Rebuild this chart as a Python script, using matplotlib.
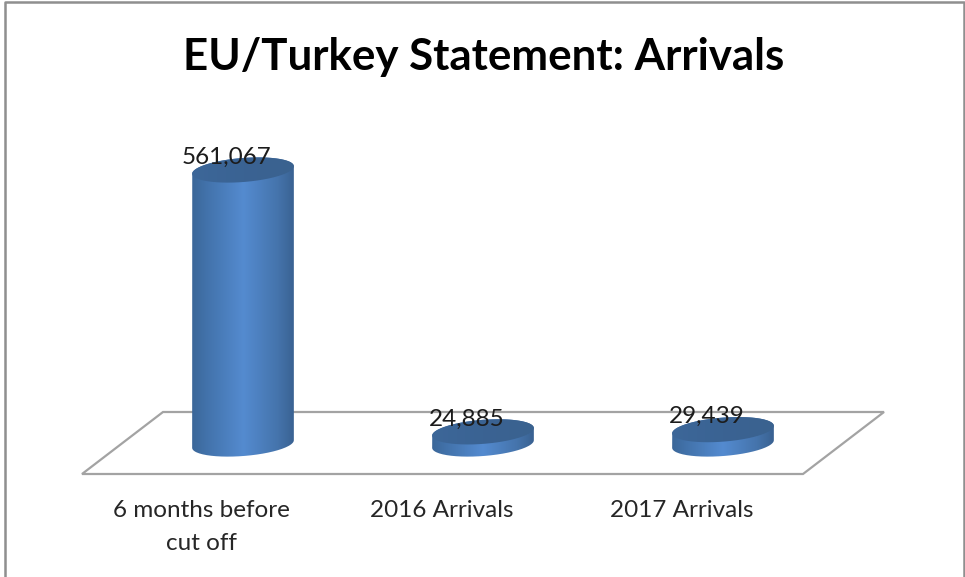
import numpy as np
import matplotlib
matplotlib.use("Agg")
import matplotlib.pyplot as plt
from matplotlib.colors import LinearSegmentedColormap
from matplotlib.patches import PathPatch, Polygon
from matplotlib.path import Path

title = "EU/Turkey Statement: Arrivals"
categories = ["6 months before\ncut off", "2016 Arrivals", "2017 Arrivals"]
arrivals = [561067, 24885, 29439]

W, H = 965, 577
CAT_SPACING = 240      # pixels between categories
FIRST_CAT_PX = 243     # pixel column of the first category
BASE_PX = 444          # pixel row of the zero line
PX_PER_UNIT = 274 / 561067

plt.rcParams["font.family"] = ["Lato", "DejaVu Sans"]

fig = plt.figure(figsize=(W / 100, H / 100), dpi=100, facecolor="white")
ax = fig.add_axes([0, 0, 1, 1])
ax.set_xlim(-FIRST_CAT_PX / CAT_SPACING, (W - FIRST_CAT_PX) / CAT_SPACING)
ax.set_ylim(-(H - BASE_PX) / PX_PER_UNIT, BASE_PX / PX_PER_UNIT)
ax.axis("off")

DX = 1 / CAT_SPACING   # data units per pixel, horizontally
DY = 1 / PX_PER_UNIT   # data units per pixel, vertically


def fig_px(x, y):
    """Pixel position (origin top-left) to data coordinates."""
    return ax.transData.inverted().transform(
        ax.transAxes.transform((x / W, 1 - y / H)))


# Chart frame
frame = fig.add_artist(plt.Line2D(
    [4.5 / W, 4.5 / W, 963.5 / W, 963.5 / W],
    [0, 1 - 1.5 / H, 1 - 1.5 / H, 0],
    color="#8f8f8f", lw=1.8, transform=fig.transFigure))

# Perspective floor behind the cylinders
floor_px = [(82, 474), (803, 474), (884, 412), (163, 412)]
ax.add_patch(Polygon([fig_px(*p) for p in floor_px], closed=True,
                     facecolor="white", edgecolor="#a3a3a3", lw=1.6, zorder=1))

body_cmap = LinearSegmentedColormap.from_list(
    "body", [(0, "#3a6596"), (0.15, "#4272aa"), (0.5, "#548bd0"),
             (0.82, "#4574ac"), (1, "#385f8e")])
cap_cmap = LinearSegmentedColormap.from_list(
    "cap", ["#3d6799", "#3a6393", "#3b628f"])

A, B = 51.0, 12.0              # ellipse semi-axes in pixels
TILT = np.deg2rad(4.5)         # right side of each ellipse sits higher


def ellipse(cx, val, t):
    ex = A * np.cos(t)
    ey = B * np.sin(t)
    x = ex * np.cos(TILT) + ey * np.sin(TILT)
    y = -ex * np.sin(TILT) + ey * np.cos(TILT)   # pixels, downward positive
    return np.column_stack([cx + x * DX, val - y * DY])


def gradient(cmap, x0, x1, y0, y1, clip, z):
    im = ax.imshow(np.linspace(0, 1, 256)[None, :], cmap=cmap, vmin=0, vmax=1,
                   extent=(x0, x1, y0, y1), aspect="auto", zorder=z,
                   interpolation="bilinear")
    im.set_clip_path(clip)


for i, val in enumerate(arrivals):
    front = np.linspace(0, np.pi, 80)
    back = np.linspace(np.pi, 2 * np.pi, 80)
    outline = np.vstack([ellipse(i, 0, front), ellipse(i, val, back)])
    outline = np.vstack([outline, outline[:1]])
    pad = (A + 2) * DX
    body = PathPatch(Path(outline), facecolor="none", edgecolor="none",
                     transform=ax.transData)
    ax.add_patch(body)
    gradient(body_cmap, i - pad, i + pad, -20 * DY, val + 20 * DY, body, 2)

    rim = ellipse(i, val, np.linspace(0, 2 * np.pi, 160))
    cap = PathPatch(Path(rim), facecolor="none", edgecolor="none",
                    transform=ax.transData)
    ax.add_patch(cap)
    gradient(cap_cmap, i - pad, i + pad, val - 20 * DY, val + 20 * DY, cap, 3)

    # Value label straddling the top of the cylinder
    ax.text(i - 16 * DX, val + 13 * DY, f"{val:,}", ha="center", va="center",
            fontsize=17.5, color="#1c1c1c", zorder=5)

    # Category label below the floor, first line at a fixed row
    lx, ly = fig_px(FIRST_CAT_PX - 42 + i * CAT_SPACING + (1 if i else 0), 500)
    ax.text(lx, ly, categories[i], ha="center", va="top", fontsize=17.5,
            color="#262626", linespacing=1.68, zorder=5)

tx, ty = fig_px(484, 57)
ax.text(tx, ty, title, ha="center", va="center", fontsize=31.6,
        fontweight="bold", color="black", zorder=5)

fig.savefig("out.png", dpi=100, facecolor="white")
